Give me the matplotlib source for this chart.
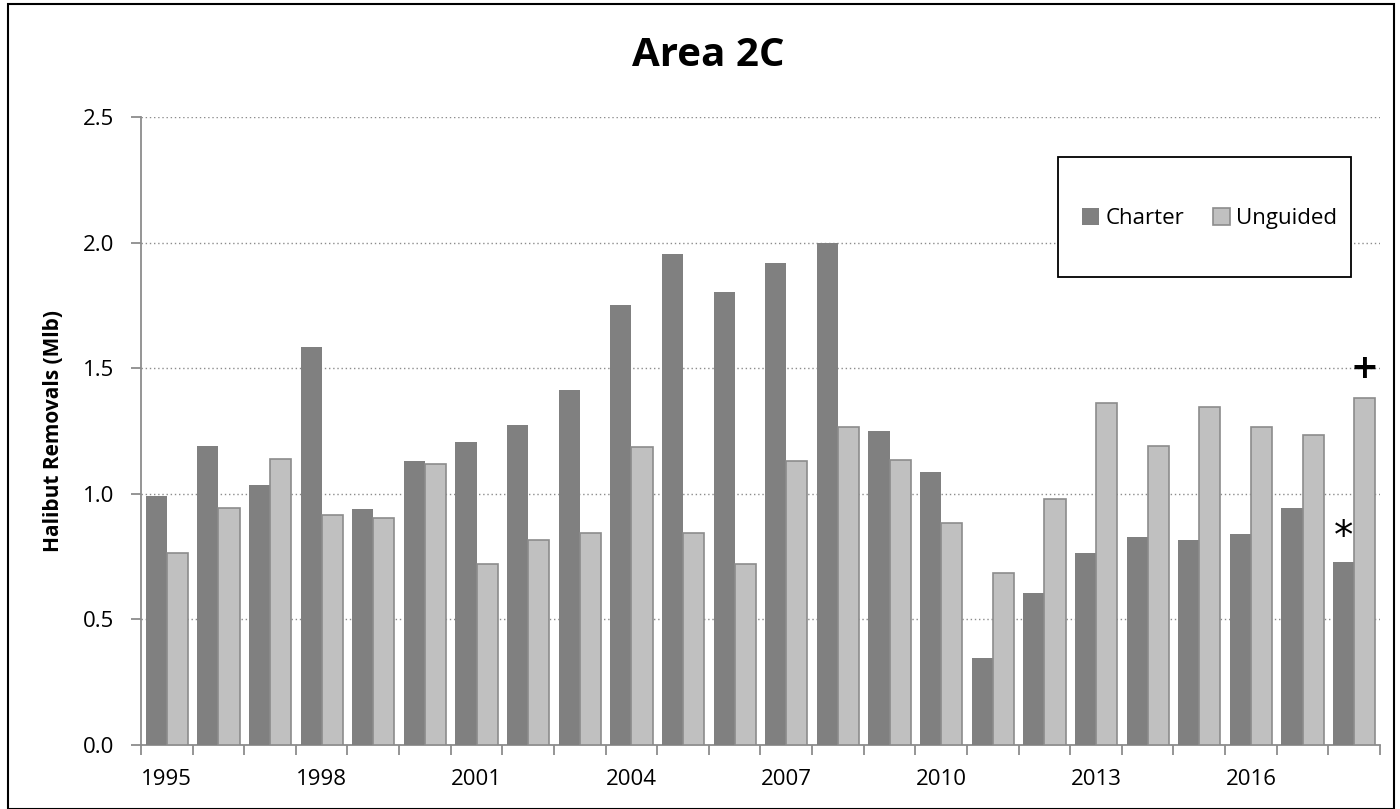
import matplotlib.pyplot as plt
from matplotlib.patches import Rectangle
import numpy as np

plt.rcParams['font.family'] = ['Open Sans', 'DejaVu Sans']

years = list(range(1995, 2019))
charter = [0.99, 1.19, 1.035, 1.585, 0.94, 1.13, 1.205, 1.275, 1.415, 1.75, 1.955, 1.805,
           1.92, 2.0, 1.25, 1.085, 0.345, 0.605, 0.765, 0.83, 0.815, 0.84, 0.945, 0.73]
unguided = [0.765, 0.945, 1.14, 0.915, 0.905, 1.12, 0.72, 0.815, 0.845, 1.185, 0.845, 0.72,
            1.13, 1.265, 1.135, 0.885, 0.685, 0.98, 1.36, 1.19, 1.345, 1.265, 1.235, 1.38]
tick_years = [1995, 1998, 2001, 2004, 2007, 2010, 2013, 2016]

fig = plt.figure(figsize=(14, 8.09), dpi=100)
ax = fig.add_axes([0.1007, 0.0791, 0.885, 0.7763])

x = np.arange(len(years))
w = 0.41
ax.bar(x - w / 2, charter, w, color='#808080', label='Charter', zorder=3)
ax.bar(x + w / 2, unguided, w, color='#c0c0c0', edgecolor='#8c8c8c', linewidth=1.2,
       label='Unguided', zorder=3)

# notes on the last year
ax.text(x[-1] - w / 2, charter[-1] + 0.1, '*', ha='center', va='center', fontsize=28,
        family='DejaVu Sans')
ax.text(x[-1] + w / 2, unguided[-1] + 0.12, '+', ha='center', va='center', fontsize=24,
        fontweight='bold', family='DejaVu Sans')

ax.set_xlim(-0.5, len(years) - 0.5)
ax.set_ylim(0, 2.5)
ax.set_yticks(np.arange(0, 2.51, 0.5))
ax.set_yticklabels([f'{v:.1f}' for v in np.arange(0, 2.51, 0.5)])
ax.set_xticks([years.index(y) for y in tick_years])
ax.set_xticklabels([str(y) for y in tick_years])
ax.set_xticks(np.arange(-0.5, len(years)), minor=True)
ax.tick_params(axis='x', which='major', length=0, labelsize=16, pad=17)
ax.tick_params(axis='x', which='minor', length=7, color='#8c8c8c', width=1.3)
ax.tick_params(axis='y', length=7, color='#8c8c8c', width=1.3, labelsize=16, pad=12)
ax.grid(axis='y', linestyle=(0, (1, 2)), color='#8c8c8c', linewidth=1, zorder=0)
for s in ['top', 'right']:
    ax.spines[s].set_visible(False)
for s in ['left', 'bottom']:
    ax.spines[s].set_color('#8c8c8c')
    ax.spines[s].set_linewidth(1.3)

ax.set_ylabel('Halibut Removals (Mlb)', fontsize=15, fontweight='bold', labelpad=14)
fig.text(0.506, 0.932, 'Area 2C', ha='center', va='center', fontsize=29, fontweight='bold')

# legend box
ax.add_patch(Rectangle((0.74, 0.745), 0.237, 0.191, transform=ax.transAxes,
                       facecolor='white', edgecolor='black', linewidth=1.3, zorder=5))
leg = ax.legend(loc='center', bbox_to_anchor=(0.8625, 0.838), ncol=2, frameon=False,
                fontsize=16, handlelength=0.75, handleheight=0.75, handletextpad=0.3,
                columnspacing=1.3)
leg.set_zorder(6)

# outer frame
fig.add_artist(Rectangle((0.006, 0.0), 0.99, 0.995, transform=fig.transFigure,
                         fill=False, edgecolor='black', linewidth=1.5))

fig.savefig('out.png', dpi=100)
